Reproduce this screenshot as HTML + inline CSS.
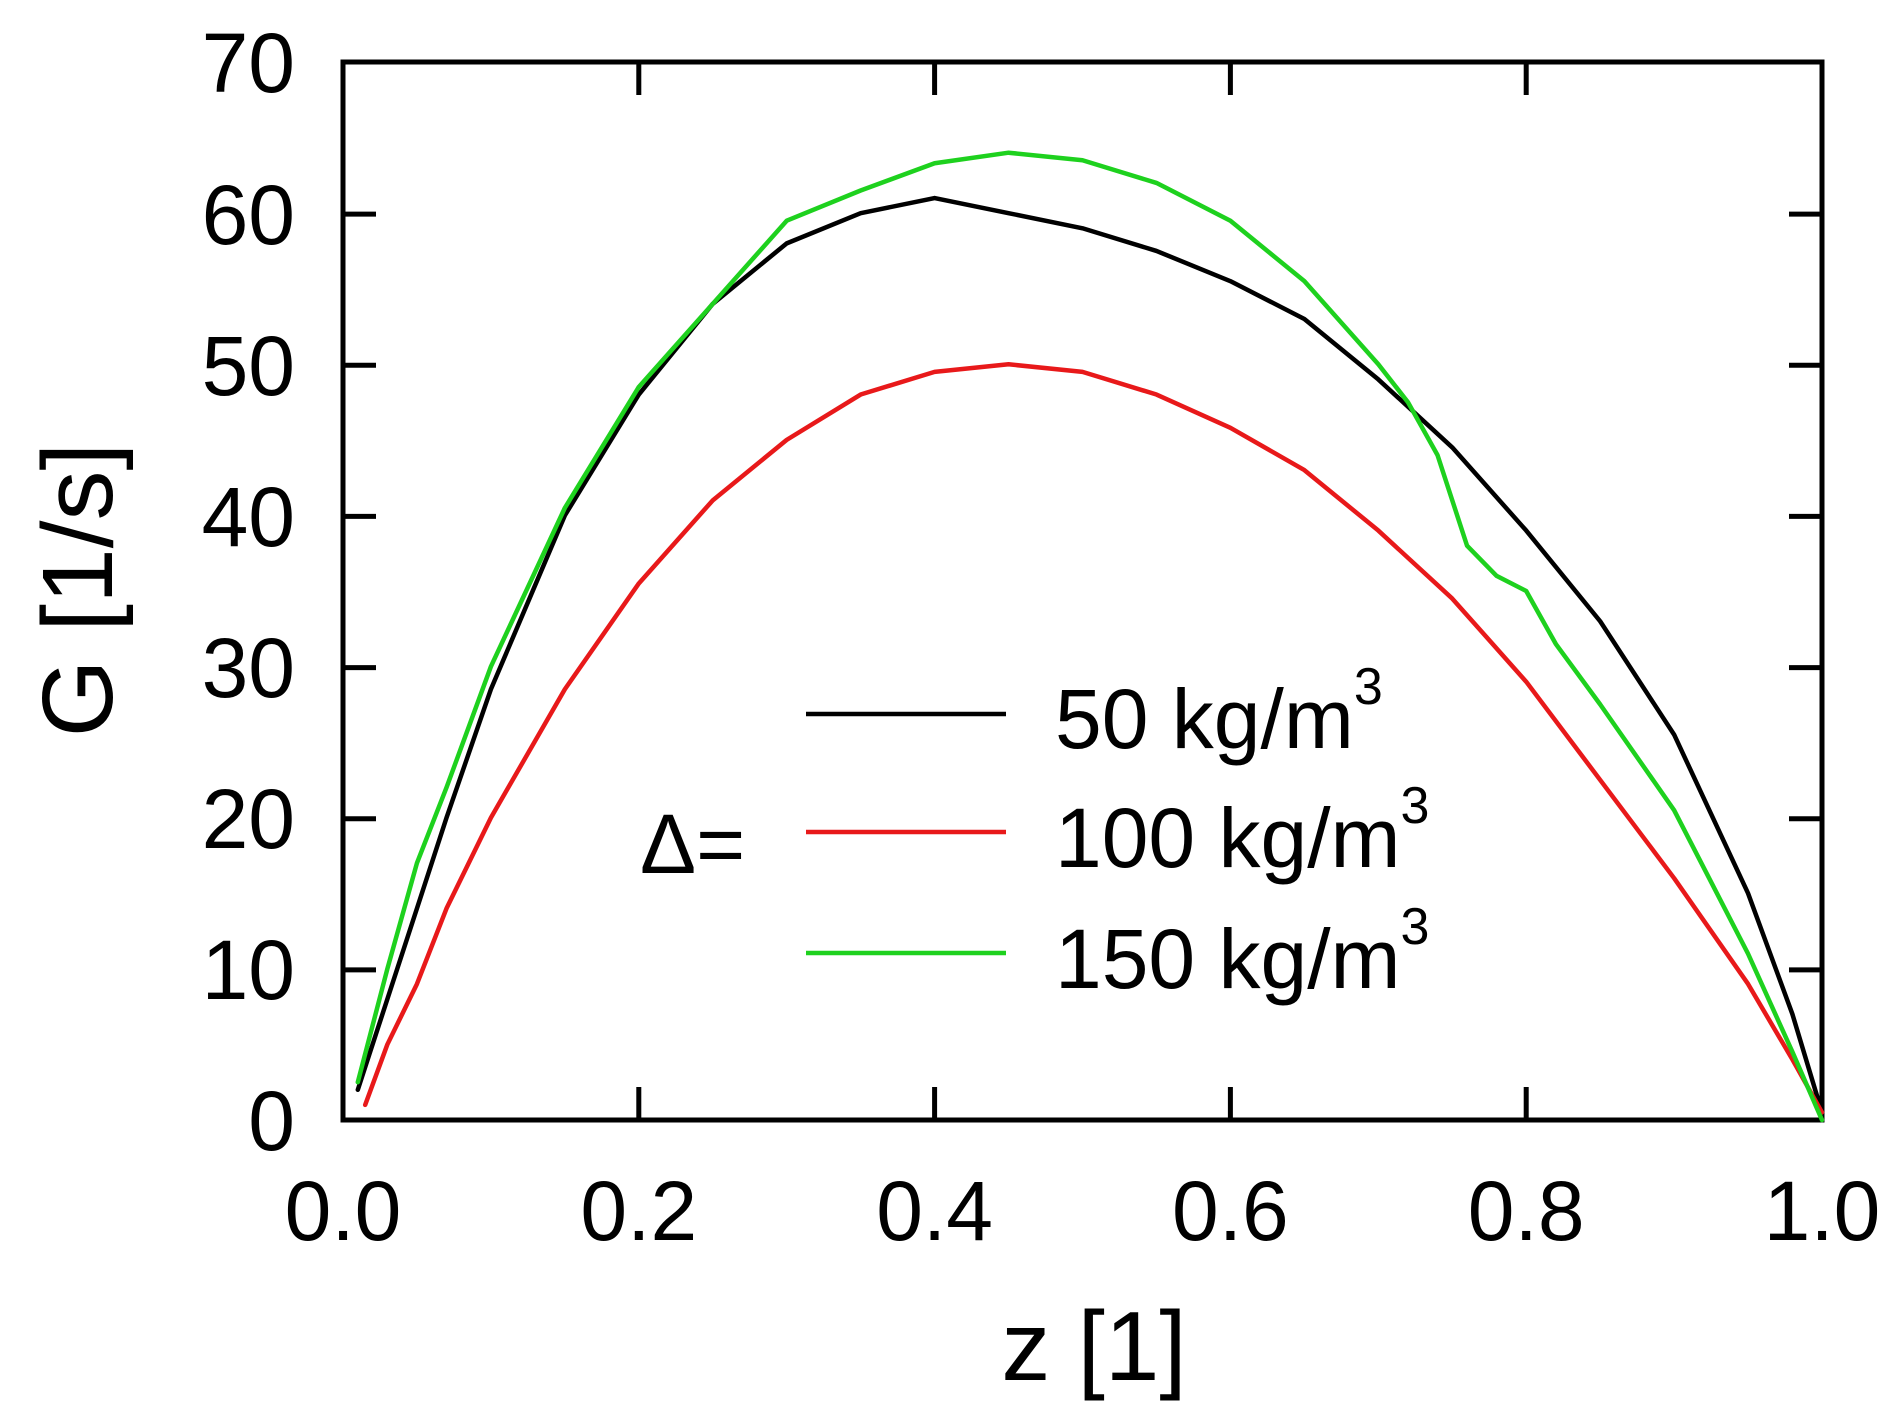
<!DOCTYPE html>
<html><head><meta charset="utf-8"><style>
html,body{margin:0;padding:0;background:#fff;}
svg{display:block;}
text{font-family:"Liberation Sans",Arial,sans-serif;fill:#000;}
</style></head><body>
<svg width="1902" height="1417" viewBox="0 0 1902 1417" xmlns="http://www.w3.org/2000/svg">
<g stroke="#000" stroke-width="5" fill="none">
<rect x="343" y="62" width="1479" height="1058"/>
<path d="M343 969.9h33M343 818.7h33M343 667.6h33M343 516.4h33M343 365.3h33M343 214.1h33
M1822 969.9h-33M1822 818.7h-33M1822 667.6h-33M1822 516.4h-33M1822 365.3h-33M1822 214.1h-33
M638.8 1120v-33M934.6 1120v-33M1230.4 1120v-33M1526.2 1120v-33
M638.8 62v33M934.6 62v33M1230.4 62v33M1526.2 62v33"/>
</g>
<g transform="translate(343,1120) scale(1479,-15.114)" fill="none" stroke-width="4.5" stroke-linejoin="round" stroke-linecap="round">
<polyline vector-effect="non-scaling-stroke" stroke="#000" points="0.01,2 0.03,8 0.05,14 0.07,20 0.1,28.5 0.15,40 0.2,48 0.25,54 0.3,58 0.35,60 0.4,61 0.45,60 0.5,59 0.55,57.5 0.6,55.5 0.65,53 0.7,49 0.75,44.5 0.8,39 0.85,33 0.9,25.5 0.95,15 0.98,7 1.0,0.5"/>
<polyline vector-effect="non-scaling-stroke" stroke="#e8191a" points="0.015,1 0.03,5 0.05,9 0.07,14 0.1,20 0.15,28.5 0.2,35.5 0.25,41 0.3,45 0.35,48 0.4,49.5 0.45,50 0.5,49.5 0.55,48 0.6,45.8 0.65,43 0.7,39 0.75,34.5 0.8,29 0.85,22.5 0.9,16 0.95,9 0.98,4 1.0,0.5"/>
<polyline vector-effect="non-scaling-stroke" stroke="#1ed11e" points="0.01,2.5 0.03,10 0.05,17 0.07,22 0.1,30 0.15,40.5 0.2,48.5 0.25,54 0.3,59.5 0.35,61.5 0.4,63.3 0.45,64 0.5,63.5 0.55,62 0.6,59.5 0.65,55.5 0.7,50 0.72,47.5 0.74,44 0.76,38 0.78,36 0.8,35 0.82,31.5 0.85,27.5 0.9,20.5 0.95,11 0.98,4.5 1.0,0"/>
</g>
<g font-size="84" text-anchor="end">
<text x="295" y="1150">0</text>
<text x="295" y="999">10</text>
<text x="295" y="848">20</text>
<text x="295" y="697">30</text>
<text x="295" y="546">40</text>
<text x="295" y="395">50</text>
<text x="295" y="244">60</text>
<text x="295" y="92">70</text>
</g>
<g font-size="84" text-anchor="middle">
<text x="343" y="1240">0.0</text>
<text x="638.8" y="1240">0.2</text>
<text x="934.6" y="1240">0.4</text>
<text x="1230.4" y="1240">0.6</text>
<text x="1526.2" y="1240">0.8</text>
<text x="1822" y="1240">1.0</text>
</g>
<text x="1094" y="1380" font-size="98" text-anchor="middle">z [1]</text>
<text transform="translate(112,590) rotate(-90)" font-size="100" text-anchor="middle">G [1/s]</text>
<g stroke-width="4.5">
<line x1="806" y1="714" x2="1006" y2="714" stroke="#000"/>
<line x1="806" y1="832" x2="1006" y2="832" stroke="#e8191a"/>
<line x1="806" y1="953" x2="1006" y2="953" stroke="#1ed11e"/>
</g>
<g font-size="84">
<text x="1055" y="748">50 kg/m<tspan font-size="52" dy="-44">3</tspan></text>
<text x="1055" y="867">100 kg/m<tspan font-size="52" dy="-44">3</tspan></text>
<text x="1055" y="988">150 kg/m<tspan font-size="52" dy="-44">3</tspan></text>
<text x="640" y="873">Δ=</text>
</g>
</svg>
</body></html>
